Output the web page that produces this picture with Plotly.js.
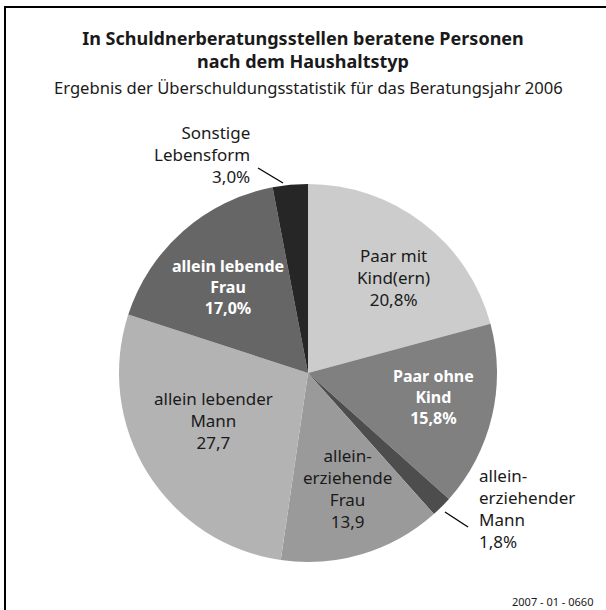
<!DOCTYPE html>
<html>
<head>
<meta charset="utf-8">
<script src="https://cdn.plot.ly/plotly-3.0.1.min.js"></script>
<style>
html,body{margin:0;padding:0;background:#fff;}
#chart{width:606px;height:610px;}
</style>
</head>
<body>
<div id="chart"></div>
<script>
// Data
var categories = ["Paar mit Kind(ern)", "Paar ohne Kind", "allein-erziehender Mann", "allein-erziehende Frau", "allein lebender Mann", "allein lebende Frau", "Sonstige Lebensform"];
var labelLines = ["Paar mit<br>Kind(ern)", "Paar ohne<br>Kind", "allein-<br>erziehender<br>Mann", "allein-<br>erziehende<br>Frau", "allein lebender<br>Mann", "allein lebende<br>Frau", "Sonstige<br>Lebensform"];
var values = [20.8, 15.8, 1.8, 13.9, 27.7, 17.0, 3.0];
var valueSuffix = ["%", "%", "%", "", "", "%", "%"];
var colors = ["#cccccc", "#808080", "#4d4d4d", "#9a9a9a", "#b3b3b3", "#666666", "#262626"];

var W = 606, H = 610;
function px(x){ return x / W; }
function py(y){ return 1 - y / H; }

// label placement (pixels) and style
var labelPos = [
  {x:393, y:277, anchor:"center", white:false},
  {x:433, y:397, anchor:"center", white:true},
  {x:477, y:508, anchor:"left", white:false},
  {x:347, y:488, anchor:"center", white:false},
  {x:213, y:420, anchor:"center", white:false},
  {x:228, y:287, anchor:"center", white:true},
  {x:252, y:155, anchor:"right", white:false}
];

var FONT = "'Noto Sans', 'Open Sans', sans-serif";
var annotations = [];
for (var i = 0; i < categories.length; i++) {
  var p = labelPos[i];
  var vtxt = values[i].toFixed(1).replace(".", ",") + valueSuffix[i];
  var txt = labelLines[i] + "<br>" + vtxt;
  if (p.white) txt = "<b>" + txt.split("<br>").join("</b><br><b>") + "</b>";
  annotations.push({
    xref: "paper", yref: "paper",
    x: px(p.x), y: py(p.y),
    xanchor: p.anchor, yanchor: "middle", align: p.anchor,
    text: txt, showarrow: false,
    font: {family: FONT, size: p.white ? 16 : 17, color: p.white ? "#ffffff" : "#1a1a1a"}
  });
}
annotations.push({
  xref: "paper", yref: "paper", x: px(308), y: py(87), xanchor: "center", yanchor: "middle",
  text: "Ergebnis der Überschuldungsstatistik für das Beratungsjahr 2006", showarrow: false,
  font: {family: FONT, size: 16.6, color: "#1a1a1a"}
});
annotations.push({
  xref: "paper", yref: "paper", x: px(595), y: py(601), xanchor: "right", yanchor: "middle",
  text: "2007 - 01 - 0660", showarrow: false,
  font: {family: FONT, size: 11, color: "#1a1a1a"}
});

var shapes = [
  {type: "path", xref: "paper", yref: "paper",
   path: "M " + px(5) + "," + py(615) + " L " + px(5) + "," + py(7) + " L " + px(610) + "," + py(7),
   line: {color: "#000000", width: 2}},
  {type: "line", xref: "paper", yref: "paper", x0: px(258), y0: py(168), x1: px(283), y1: py(183),
   line: {color: "#000000", width: 1.3}},
  {type: "line", xref: "paper", yref: "paper", x0: px(445), y0: py(512), x1: px(468), y1: py(527),
   line: {color: "#000000", width: 1.3}}
];

var trace = {
  type: "pie",
  labels: categories,
  values: values,
  sort: false,
  direction: "clockwise",
  rotation: 0,
  textinfo: "none",
  hoverinfo: "label+value",
  marker: {colors: colors, line: {width: 0}},
  domain: {x: [px(119), px(497)], y: [1 - 562 / H, 1 - 184 / H]},
  showlegend: false
};

var layout = {
  width: W, height: H,
  margin: {l: 0, r: 0, t: 0, b: 0},
  paper_bgcolor: "#ffffff",
  plot_bgcolor: "#ffffff",
  showlegend: false,
  title: {
    text: "<b>In Schuldnerberatungsstellen beratene Personen<br>nach dem Haushaltstyp</b>",
    font: {family: FONT, size: 18, color: "#1a1a1a"},
    x: 0.5, xanchor: "center", xref: "paper",
    y: py(45), yanchor: "middle", yref: "container"
  },
  annotations: annotations,
  shapes: shapes
};

Plotly.newPlot("chart", [trace], layout, {displayModeBar: false, staticPlot: true});
</script>
</body>
</html>
